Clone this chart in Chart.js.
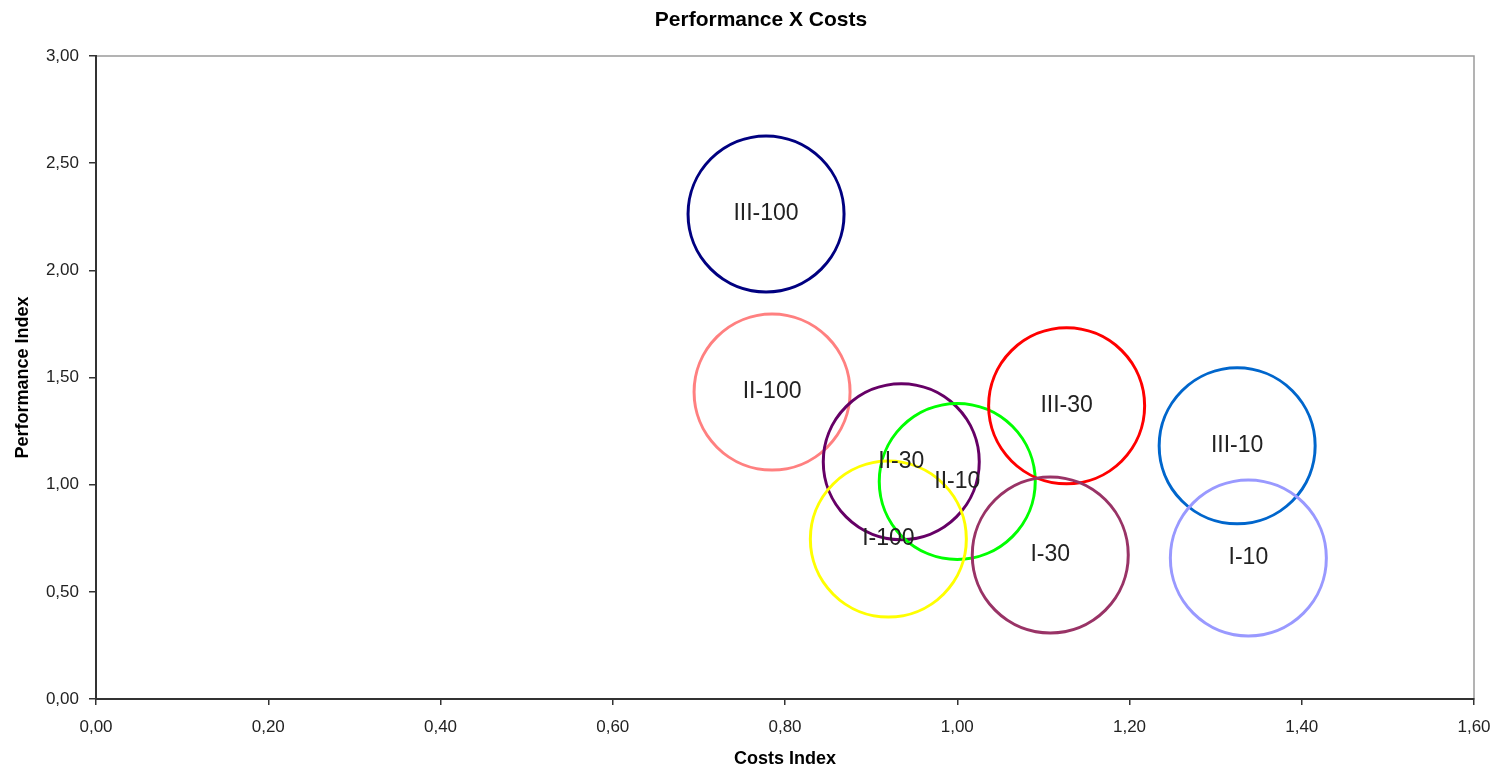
<!DOCTYPE html>
<html>
<head>
<meta charset="utf-8">
<script src="https://cdn.jsdelivr.net/npm/chart.js@4.4.1/dist/chart.umd.min.js"></script>
<style>
  html, body { margin: 0; padding: 0; background: #fff; }
  #wrap { width: 1495px; height: 772px; }
</style>
</head>
<body>
<div id="wrap"><canvas id="myChart" width="1495" height="772"></canvas></div>
<script>
const names = ["III-100", "II-100", "II-30", "II-10", "I-100", "III-30", "I-30", "III-10", "I-10"];
const costs = [0.778, 0.785, 0.935, 1.000, 0.920, 1.127, 1.108, 1.325, 1.338];
const perf = [2.263, 1.432, 1.107, 1.015, 0.746, 1.368, 0.672, 1.181, 0.658];
const sizes = [1, 1, 1, 1, 1, 1, 1, 1, 1];
const xTicks = [0, 0.2, 0.4, 0.6, 0.8, 1.0, 1.2, 1.4, 1.6];
const yTicks = [0, 0.5, 1.0, 1.5, 2.0, 2.5, 3.0];
const chartTitle = "Performance X Costs";

const lineColors = ["#000080", "#FF8080", "#660066", "#00FF00", "#FFFF00", "#FF0000", "#993366", "#0066CC", "#9999FF"];
const bubbleScale = 78;
const fontFam = "'Liberation Sans', Arial, sans-serif";

const fmt = v => v.toFixed(2).replace(".", ",");

// gray frame behind the axes (top and right edges) + chart title
const framePlugin = {
    id: "frame",
    beforeDraw(chart) {
        const { ctx, chartArea: a } = chart;
        ctx.save();
        ctx.strokeStyle = "#9a9a9a";
        ctx.lineWidth = 1.5;
        ctx.strokeRect(a.left, a.top, a.right - a.left, a.bottom - a.top);
        ctx.font = "bold 21px " + fontFam;
        ctx.fillStyle = "#000";
        ctx.textAlign = "center";
        ctx.textBaseline = "alphabetic";
        ctx.fillText(chartTitle, 761, 26);
        ctx.restore();
    }
};

// names written in the middle of each bubble
const namePlugin = {
    id: "names",
    afterDatasetsDraw(chart) {
        const { ctx } = chart;
        const meta = chart.getDatasetMeta(0);
        ctx.save();
        ctx.font = "23px " + fontFam;
        ctx.fillStyle = "#222";
        ctx.textAlign = "center";
        ctx.textBaseline = "middle";
        meta.data.forEach((el, i) => {
            ctx.fillText(names[i], el.x, el.y);
        });
        ctx.restore();
    }
};

const ctx = document.getElementById("myChart");

new Chart(ctx, {
    type: "bubble",
    data: {
        datasets: [{
            data: costs.map((c, i) => ({ x: c, y: perf[i], r: sizes[i] * bubbleScale })),
            borderColor: lineColors,
            backgroundColor: "rgba(0,0,0,0)",
            borderWidth: 3,
            hoverBorderWidth: 3
        }]
    },
    options: {
        responsive: false,
        animation: false,
        clip: false,
        layout: { autoPadding: false, padding: { left: 0, right: 21, top: 56, bottom: 0 } },
        plugins: {
            legend: { display: false },
            tooltip: { enabled: false },
            title: { display: false }
        },
        scales: {
            x: {
                type: "linear",
                min: 0,
                max: 1.6,
                afterBuildTicks: s => { s.ticks = xTicks.map(v => ({ value: v })); },
                afterFit: s => { s.height = 73; s.paddingLeft = 0; s.paddingRight = 0; },
                grid: { drawOnChartArea: false, drawTicks: true, tickLength: 6, color: "#333", lineWidth: 1.5 },
                border: { display: true, color: "#333", width: 2 },
                ticks: {
                    color: "#222",
                    padding: 12,
                    maxRotation: 0,
                    font: { family: fontFam, size: 17 },
                    callback: v => fmt(v)
                },
                title: {
                    display: true,
                    text: "Costs Index",
                    color: "#000",
                    font: { family: fontFam, size: 18, weight: "bold" },
                    padding: { top: 0, bottom: 2 }
                }
            },
            y: {
                type: "linear",
                min: 0,
                max: 3,
                afterBuildTicks: s => { s.ticks = yTicks.map(v => ({ value: v })); },
                afterFit: s => { s.width = 96; s.paddingTop = 0; s.paddingBottom = 0; },
                grid: { drawOnChartArea: false, drawTicks: true, tickLength: 7, color: "#333", lineWidth: 1.5 },
                border: { display: true, color: "#333", width: 2 },
                ticks: {
                    color: "#222",
                    padding: 10,
                    font: { family: fontFam, size: 17 },
                    callback: v => fmt(v)
                },
                title: {
                    display: true,
                    text: "Performance Index",
                    color: "#000",
                    font: { family: fontFam, size: 18, weight: "bold" },
                    padding: { top: 12, bottom: 0 }
                }
            }
        }
    },
    plugins: [framePlugin, namePlugin]
});
</script>
</body>
</html>
